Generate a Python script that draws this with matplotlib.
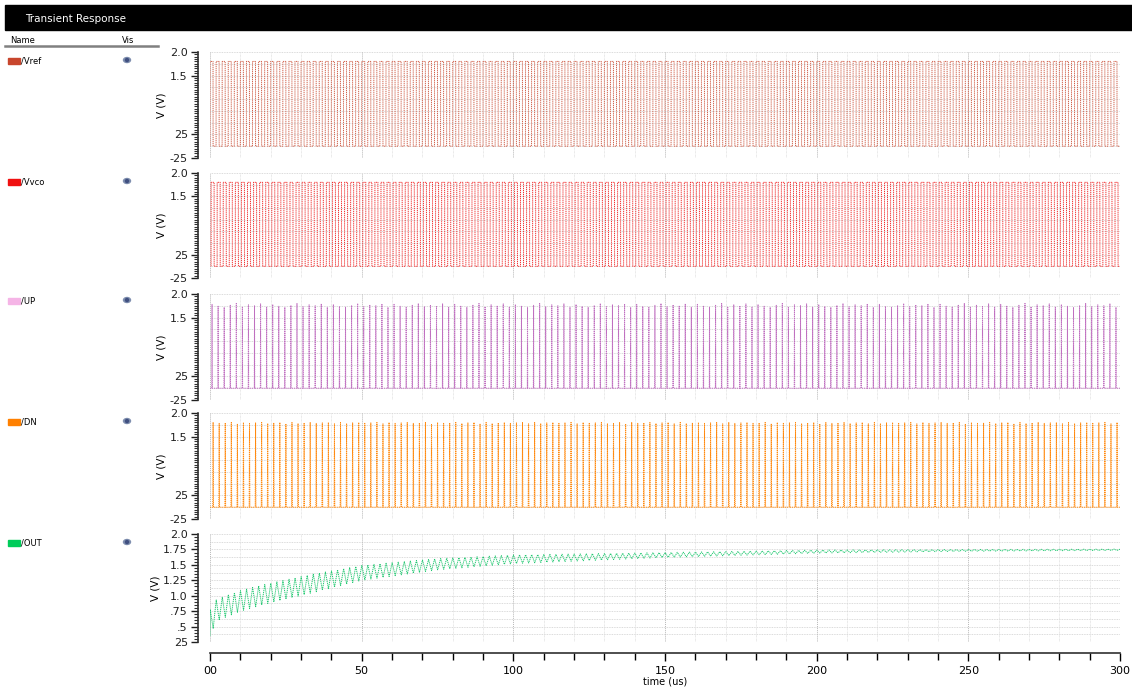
import numpy as np
import matplotlib
matplotlib.use("Agg")
import matplotlib.pyplot as plt
from matplotlib.patches import Rectangle, Ellipse
from matplotlib.ticker import MultipleLocator, FixedLocator, FixedFormatter

plt.rcParams['font.family'] = ['Liberation Sans Narrow', 'DejaVu Sans']

W, H = 1132, 691

# ---- data ----
signal_names = ["/Vref", "/Vvco", "/UP", "/DN", "/OUT"]
legend_colors = ["#c8462d", "#f01010", "#f5b4e6", "#ff8000", "#00cc5a"]
line_colors = ["#d0604a", "#f03030", "#c070c0", "#ff8a10", "#20c870"]

t_end = 300.0          # us
period = 2.0           # us, reference / vco period
v_low = 0.0
v_high = 1.8
vco_offset = 0.35      # us
up_width = 0.15        # us
dn_width = 0.25        # us
up_peaks = [1.78, 1.74, 1.72, 1.76, 1.80, 1.73, 1.77, 1.75, 1.79, 1.72]
dn_peaks = [1.80, 1.78, 1.79, 1.80, 1.77, 1.80, 1.78, 1.79]

# OUT envelope (time us, upper and lower level V)
out_t = [0, 2, 5, 10, 17, 33, 50, 75, 100, 150, 200, 250, 300]
out_hi = [0.78, 0.93, 1.00, 1.08, 1.17, 1.34, 1.49, 1.60, 1.66, 1.70, 1.74, 1.75, 1.755]
out_lo = [0.35, 0.58, 0.65, 0.75, 0.85, 1.04, 1.25, 1.42, 1.52, 1.62, 1.69, 1.72, 1.735]

top_ticks = [2.0, 1.5, 0.25, -0.25]
top_ticklabels = ["2.0", "1.5", "25", "-25"]
out_ticks = [2.0, 1.75, 1.5, 1.25, 1.0, 0.75, 0.5, 0.25]
out_ticklabels = ["2.0", "1.75", "1.5", "1.25", "1.0", ".75", ".5", "25"]
x_ticks = [0, 50, 100, 150, 200, 250, 300]
x_ticklabels = ["00", "50", "100", "150", "200", "250", "300"]


def square(offset):
    ts, vs = [], []
    k0 = offset
    while k0 < t_end:
        for tt, vv in [(k0, v_low), (k0 + 0.02, v_high), (k0 + period / 2, v_high),
                       (k0 + period / 2 + 0.02, v_low), (k0 + period, v_low)]:
            ts.append(tt)
            vs.append(vv)
        k0 += period
    return np.array(ts), np.array(vs)


def pulses(width, peaks, offset):
    ts, vs = [0.0], [v_low]
    k = 0
    t0 = offset
    while t0 < t_end:
        pk = peaks[k % len(peaks)]
        ts += [t0, t0 + width / 2, t0 + width]
        vs += [v_low, pk, v_low]
        t0 += period
        k += 1
    ts.append(t_end)
    vs.append(v_low)
    return np.array(ts), np.array(vs)


def out_wave():
    ts = [0.0, 0.05]
    vs = [out_lo[0], out_hi[0]]
    t0 = 0.05
    while t0 < t_end:
        tm = t0 + period * 0.5
        t1 = t0 + period
        ts += [tm, t1]
        vs += [np.interp(tm, out_t, out_lo), np.interp(t1, out_t, out_hi)]
        t0 = t1
    return np.array(ts), np.array(vs)


series = [square(0.0), square(vco_offset), pulses(up_width, up_peaks, 0.6),
          pulses(dn_width, dn_peaks, 0.9), out_wave()]

fig = plt.figure(figsize=(W / 100, H / 100), dpi=100)

# panel pixel extents (top, bottom)
panels = [(52, 158), (173, 278), (294, 400), (413, 519), (534, 642)]
x0, x1 = 210, 1120

for i, (pt, pb) in enumerate(panels):
    ax = fig.add_axes([x0 / W, 1 - pb / H, (x1 - x0) / W, (pb - pt) / H])
    ts, vs = series[i]
    ax.plot(ts, vs, color=line_colors[i], lw=0.7, ls=(0, (1.2, 0.8)), zorder=3)
    ax.set_xlim(0, 300)
    for s in ["top", "right"]:
        ax.spines[s].set_visible(False)
    ax.spines["left"].set_position(("outward", 9))
    ax.spines["left"].set_linewidth(1.2)
    ax.spines["left"].set_color("#303030")
    if i < 4:
        ax.set_ylim(-0.25, 2.0)
        ax.yaxis.set_major_locator(FixedLocator(top_ticks))
        ax.yaxis.set_major_formatter(FixedFormatter(top_ticklabels))
        hgrid = np.arange(-0.25, 2.01, 0.25)
    else:
        ax.set_ylim(0.25, 2.0)
        ax.yaxis.set_major_locator(FixedLocator(out_ticks))
        ax.yaxis.set_major_formatter(FixedFormatter(out_ticklabels))
        hgrid = np.arange(0.25, 2.01, 0.125)
    ax.yaxis.set_minor_locator(MultipleLocator(0.05))
    for yv in hgrid:
        ax.axhline(yv, color="#cfcfcf", lw=0.6, ls=(0, (1, 1)), zorder=1)
    for xv in np.arange(0, 301, 10):
        c = "#b8b8b8" if xv % 50 == 0 else "#d4d4d4"
        ax.axvline(xv, color=c, lw=0.7 if xv % 50 == 0 else 0.5, ls=(0, (1, 1)), zorder=1)
    ax.tick_params(axis="y", which="major", length=5, width=1, labelsize=8,
                   colors="#202020", pad=2)
    ax.tick_params(axis="y", which="minor", length=3, width=0.8, colors="#303030")
    ax.set_ylabel("V (V)", fontsize=7.5, labelpad=2)
    if i < 4:
        ax.spines["bottom"].set_visible(False)
        ax.set_xticks([])
    else:
        ax.spines["bottom"].set_position(("outward", 8))
        ax.spines["bottom"].set_linewidth(1.2)
        ax.spines["bottom"].set_color("#303030")
        ax.xaxis.set_major_locator(FixedLocator(x_ticks))
        ax.xaxis.set_major_formatter(FixedFormatter(x_ticklabels))
        ax.xaxis.set_minor_locator(MultipleLocator(10))
        ax.tick_params(axis="x", which="major", length=6, width=1, labelsize=8, pad=3)
        ax.tick_params(axis="x", which="minor", length=5, width=1)
        ax.set_xlabel("time (us)", fontsize=7, labelpad=1)

# overlay for the browser-style header and name list
ov = fig.add_axes([0, 0, 1, 1], zorder=-1)
ov.set_xlim(0, W)
ov.set_ylim(H, 0)
ov.axis("off")
ov.add_patch(Rectangle((5, 5), W - 5, 25, color="black"))
ov.text(25, 19, "Transient Response", color="white", fontsize=7.5, va="center")
ov.text(10, 40, "Name", fontsize=6, va="center")
ov.text(122, 40, "Vis", fontsize=6, va="center")
ov.plot([5, 158], [45.5, 45.5], color="#808080", lw=1.8)
legend_y = [61, 182, 301, 422, 543]
for name, col, yy in zip(signal_names, legend_colors, legend_y):
    ov.add_patch(Rectangle((8, yy - 3), 12, 6, color=col))
    ov.text(21, yy, name, fontsize=6, va="center")
    ov.add_patch(Ellipse((127, yy - 1), 7, 5, color="#8090b0"))
    ov.add_patch(Ellipse((127, yy - 1), 3, 3, color="#405080"))

fig.savefig("out.png", dpi=100)
